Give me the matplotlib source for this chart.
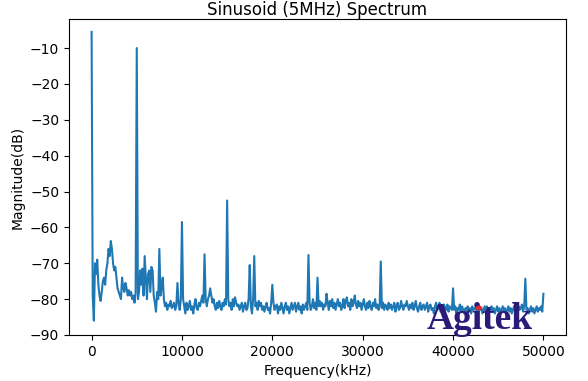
import numpy as np
import matplotlib.pyplot as plt

# frequency axis, 125 kHz bins from 0 to 50 MHz
freq_step = 125
freq_khz = np.arange(0, 50001, freq_step)

# magnitude (dB), one row = 20 bins (2500 kHz)
mag_db = [
    -5.5, -79, -86, -70, -73, -69, -76, -79, -80.5, -78, -75, -74, -76, -72, -70, -66, -68, -63.8, -66, -70,
    -72, -71, -74, -77, -78, -79, -80, -74, -77, -78, -75.5, -77, -79, -77.5, -79, -78, -80, -79, -81, -78,
    -10, -80, -78, -72, -76, -71.5, -79, -68, -74, -80, -73, -72, -78, -71, -72, -79, -81, -83.5, -78, -80,
    -66, -79, -77, -74, -80, -82, -81, -83, -81.5, -82, -80.5, -82.5, -82, -81, -83, -82, -75.5, -81, -83, -80,
    -58.5, -80, -82, -84, -81, -83, -82, -80.5, -83, -82, -84, -81.5, -80, -82.5, -83, -81, -82, -80.5, -79, -81,
    -67.5, -80, -82, -80, -79, -77, -79, -81, -80, -82, -83, -81, -82.5, -80.5, -82, -83, -81, -82, -80, -81.5,
    -52.5, -80, -82, -81, -83, -80, -82, -79.5, -81, -82, -81.5, -83, -82, -81, -83.5, -82, -81, -83, -82.5, -80,
    -70.5, -82, -84, -80, -68, -82, -81, -83, -80.5, -82, -81, -83, -82, -83.5, -82, -81, -83, -82.5, -84, -81,
    -76, -81, -83, -82, -81.5, -84, -82, -83, -81, -82.5, -84, -82, -81, -83, -82, -84, -82.5, -81, -83, -82,
    -81, -83.5, -82, -81, -83, -82, -84, -81.5, -83, -82, -81, -83, -67.7, -81, -83, -82, -80, -82.5, -81, -83,
    -74, -82, -80.5, -82, -81, -83, -81.5, -82, -78.5, -81, -83, -80.5, -82, -80, -82.5, -81, -83, -81.5, -80, -82,
    -81, -83, -82, -80, -82.5, -80.5, -79.5, -82, -81, -83, -80, -82, -81, -79, -81.5, -82.5, -80.5, -82, -81, -83,
    -81.5, -80, -82, -83, -81, -82.5, -80.5, -82, -83, -81, -82, -80, -82.5, -81.5, -83, -82, -69.5, -82.5, -81, -83,
    -81.5, -82, -83, -81, -82.5, -81.5, -83, -82, -81, -83.5, -82, -81, -83, -82.5, -80.5, -82, -83, -81.5, -82, -80.5,
    -82, -83, -81.5, -82.5, -81, -83, -82, -80.5, -82.5, -83.5, -82, -81, -83, -82, -81.5, -83, -82, -81, -83.5, -82,
    -81.5, -83, -82.5, -84, -82, -81, -83, -82.5, -81, -83.5, -82, -83, -81.5, -82.5, -83, -81.5, -83.5, -82, -82.5, -83,
    -77, -83, -82, -84, -82.5, -83, -81.5, -83.5, -82, -83, -84, -82.5, -83, -82, -83.5, -82.5, -84, -82, -83, -82.5,
    -83, -81.5, -84, -82, -83, -82.5, -84, -83, -82, -83.5, -82, -84, -82.5, -83, -82, -83.5, -82.5, -84, -83, -82,
    -83.5, -82.5, -84, -83, -82, -83.5, -82.5, -84, -83, -82, -83.5, -82.5, -84, -83, -82, -83.5, -82.5, -84, -82, -83,
    -82.5, -81.5, -83.5, -82, -74.3, -83, -82.5, -84, -83, -82, -83.5, -82.5, -84, -83, -82, -83.5, -82.5, -83, -82, -83.5,
    -78.5,
]

fig = plt.figure(figsize=(5.88, 3.81), dpi=100)
ax = fig.add_axes([69 / 588, 1 - 335 / 381, (566 - 69) / 588, (335 - 19) / 381])

ax.plot(freq_khz, mag_db, color='#1f77b4', linewidth=1.5)

ax.set_ylim(-90, -1.9)
ax.set_title('Sinusoid (5MHz) Spectrum', pad=3)
ax.set_xlabel('Frequency(kHz)')
ax.set_ylabel('Magnitude(dB)')

# watermark logo
fig.text(427 / 588, 1 - 329 / 381, 'Agitek', fontsize=27, fontfamily='Liberation Serif',
         fontweight='bold', color='#2b1a78', va='baseline', ha='left', zorder=5)
fig.add_artist(plt.Circle((479 / 588, 1 - 308 / 381), 2.6 / 588, color='#e8262a',
                          transform=fig.transFigure, zorder=6))

fig.savefig('out.png', dpi=100)
